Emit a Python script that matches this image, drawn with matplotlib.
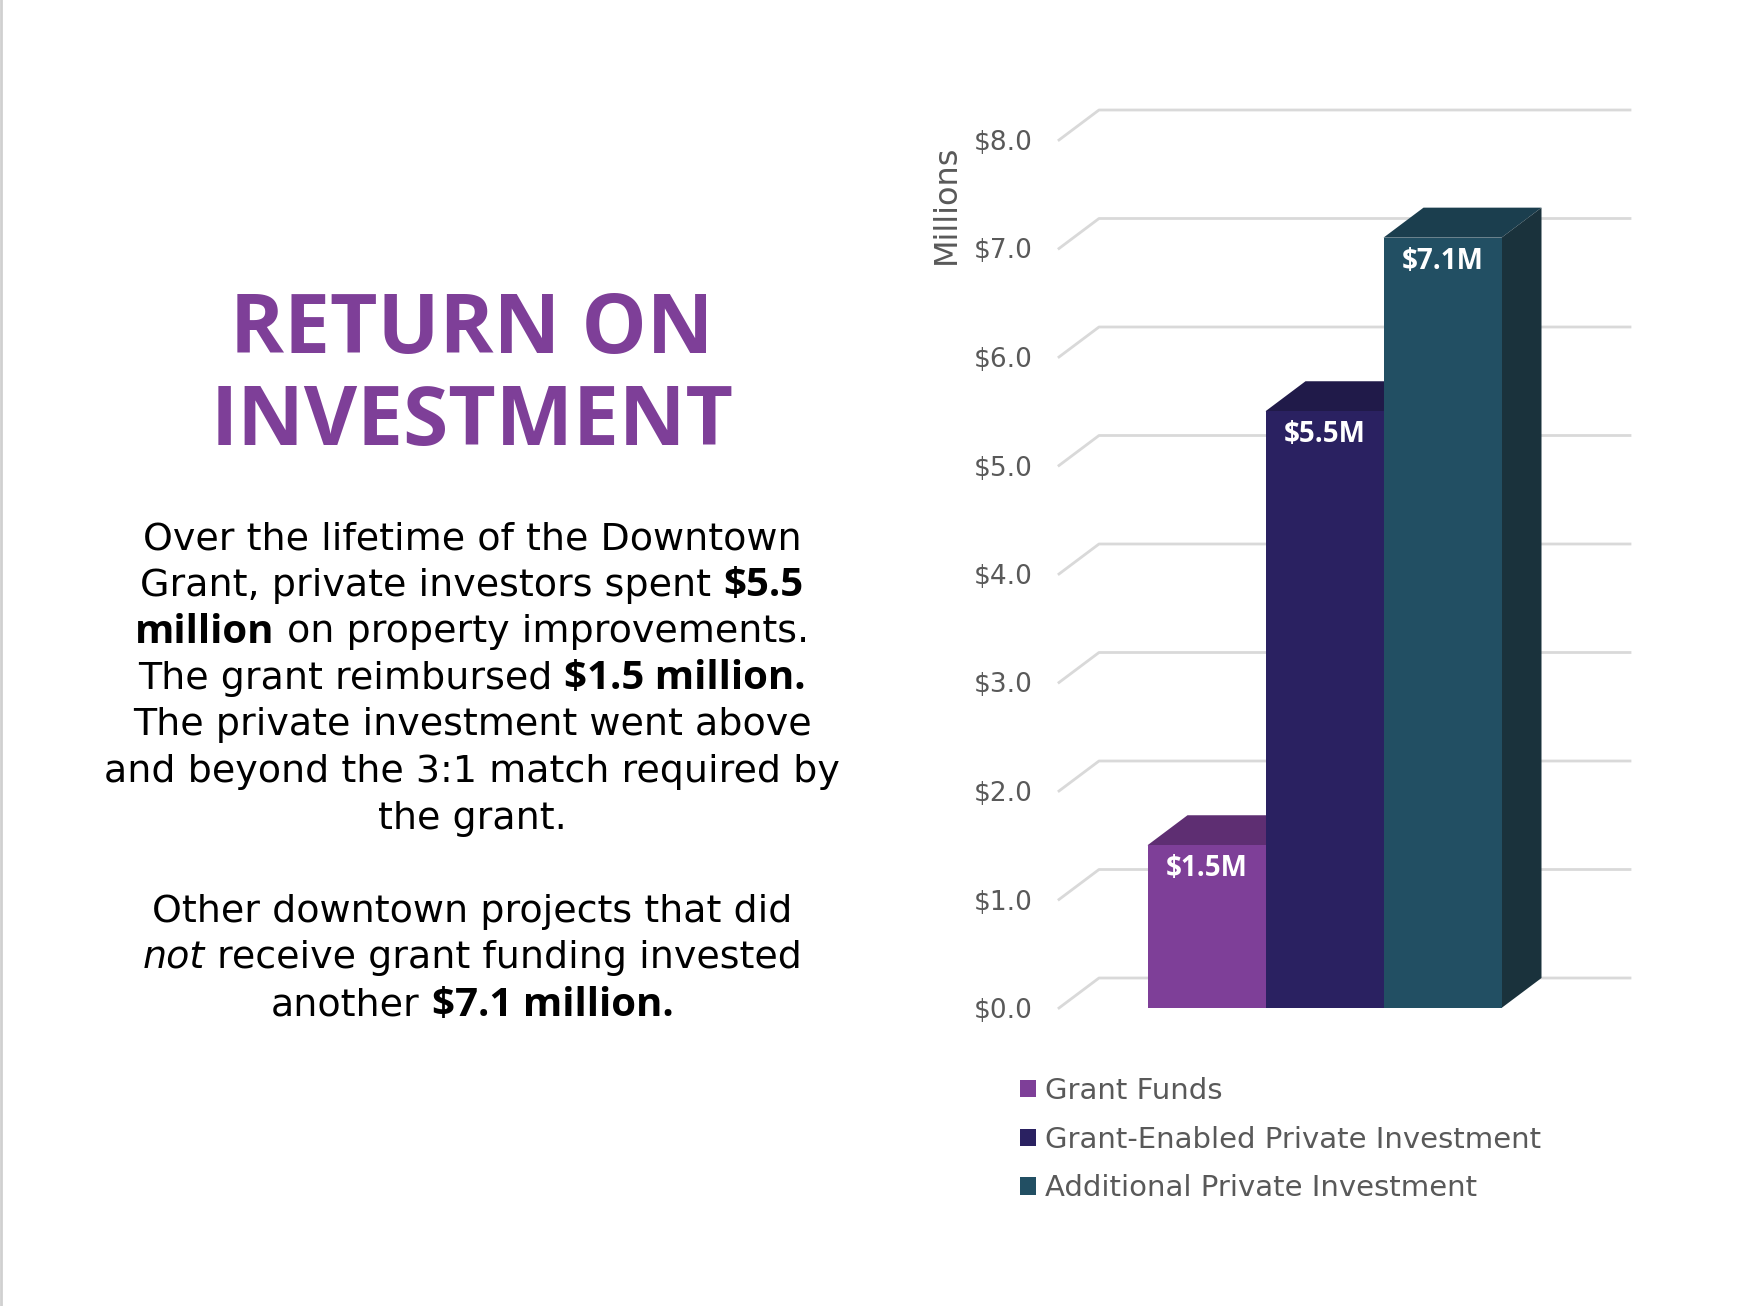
import matplotlib
matplotlib.use("Agg")
import matplotlib.pyplot as plt
from matplotlib.patches import Polygon, Patch
from matplotlib.lines import Line2D
from matplotlib.transforms import IdentityTransform

plt.rcParams['text.parse_math'] = False
plt.rcParams['font.family'] = ['DejaVu Sans']

# ---------------- data ----------------
series = ["Grant Funds", "Grant-Enabled Private Investment", "Additional Private Investment"]
values = [1.5, 5.5, 7.1]
value_labels = ["$1.5M", "$5.5M", "$7.1M"]
y_ticks = [0, 1, 2, 3, 4, 5, 6, 7, 8]
y_tick_labels = ["$0.0", "$1.0", "$2.0", "$3.0", "$4.0", "$5.0", "$6.0", "$7.0", "$8.0"]
axis_title = "Millions"
title_lines = ["RETURN ON", "INVESTMENT"]
body_lines = [
    [("Over the lifetime of the Downtown", "n")],
    [("Grant, private investors spent", "n"), ("$5.5", "b")],
    [("million", "b"), ("on property improvements.", "n")],
    [("The grant reimbursed", "n"), ("$1.5 million.", "b")],
    [("The private investment went above", "n")],
    [("and beyond the 3:1 match required by", "n")],
    [("the grant.", "n")],
    [],
    [("Other downtown projects that did", "n")],
    [("not", "i"), ("receive grant funding invested", "n")],
    [("another", "n"), ("$7.1 million.", "b")],
]

# ---------------- style ----------------
front_colors = ["#7E3F98", "#2A2161", "#224F63"]
top_colors = ["#5E2E72", "#201A49", "#1B3E4E"]
side_colors = ["#4F2761", "#1A153C", "#1A323C"]
grid_color = "#D9D9D9"
tick_color = "#595959"
title_color = "#7E3F98"
accent_font = ["Open Sans", "DejaVu Sans"]

W, H = 1738, 1306
fig = plt.figure(figsize=(W / 100, H / 100), dpi=100)
fig.patch.set_facecolor("white")
px = IdentityTransform()

# front plane of the plot area, in pixels
PL, PR, PB, PT = 1059, 1590, 1008, 140
ax = fig.add_axes([PL / W, 1 - PB / H, (PR - PL) / W, (PB - PT) / H])
ax.set_xlim(0, 1)
ax.set_ylim(0, 8)
for s in ax.spines.values():
    s.set_visible(False)
ax.patch.set_alpha(0)
ax.set_xticks([])
ax.set_yticks(y_ticks)
ax.set_yticklabels(y_tick_labels)
ax.tick_params(axis="y", length=0, pad=19, labelsize=19, labelcolor=tick_color)

DX, DY = 40, 30  # depth offset in pixels
dx = DX / (PR - PL) * 1.0
dy = DY / (PB - PT) * 8.0

for v in y_ticks:
    ax.add_line(Line2D([0, dx, 1 + dx], [v, v + dy, v + dy], color=grid_color,
                       lw=2, clip_on=False, zorder=1))

gap = 1.5
n = len(values)
w = 1 / (n + gap)
x0s = [gap * w / 2 + i * w for i in range(n)]
bars = ax.bar(x0s, values, width=w, align="edge", color=front_colors, linewidth=0)
for i, (rect, x0, h) in enumerate(zip(bars, x0s, values)):
    z = 3 + i
    rect.set_zorder(z + 0.5)
    top = Polygon([(x0, h), (x0 + w, h), (x0 + w + dx, h + dy), (x0 + dx, h + dy)],
                  closed=True, facecolor=top_colors[i], edgecolor="none", zorder=z, clip_on=False)
    side = Polygon([(x0 + w, 0), (x0 + w + dx, dy), (x0 + w + dx, h + dy), (x0 + w, h)],
                   closed=True, facecolor=side_colors[i], edgecolor="none", zorder=z, clip_on=False)
    ax.add_patch(top)
    ax.add_patch(side)
    ax.annotate(value_labels[i], (x0 + w / 2, h), xytext=(0, -17), textcoords="offset points",
                ha="center", va="center", color="white", fontsize=20, fontweight="bold",
                family=accent_font, zorder=z + 1)

fig.text(946, H - 204, axis_title, transform=px, rotation=90, ha="center", va="center",
         fontsize=23, color=tick_color)

handles = [Patch(facecolor=c, edgecolor="none") for c in front_colors]
fig.legend(handles=handles, labels=series, loc="upper left",
           bbox_to_anchor=(1020 / W, 1 - 1077 / H), frameon=False, fontsize=21,
           labelcolor=tick_color, handlelength=0.54, handleheight=0.54,
           handletextpad=0.32, labelspacing=0.71, borderpad=0, borderaxespad=0)

# ---------------- left text panel ----------------
CX = 472
for j, line in enumerate(title_lines):
    fig.text(CX, H - (332 + j * 92), line, transform=px, ha="center", va="center",
             fontsize=59, fontweight="bold", color=title_color, family=accent_font)

renderer = fig.canvas.get_renderer()


def seg_props(style):
    if style == "b":
        return dict(fontweight="bold", family=accent_font)
    if style == "i":
        return dict(fontstyle="italic")
    return dict()


# fit the body font so the widest line spans the same width as in the original layout
target_width = 736
ref_size = 25
probe = fig.text(0, 0, "and beyond the 3:1 match required by", fontsize=ref_size)
body_size = ref_size * target_width / probe.get_window_extent(renderer).width
probe.remove()

probe1 = fig.text(0, 0, "a a", fontsize=body_size)
probe2 = fig.text(0, 0, "aa", fontsize=body_size)
space_w = probe1.get_window_extent(renderer).width - probe2.get_window_extent(renderer).width
probe1.remove()
probe2.remove()

y0, step = 539, 46.6
for k, line in enumerate(body_lines):
    if not line:
        continue
    y = H - (y0 + k * step)
    texts, widths = [], []
    for s, st in line:
        props = seg_props(st)
        size = body_size * (1.06 if st == "b" else 1.0)
        t = fig.text(0, y, s, transform=px, ha="left", va="center", fontsize=size,
                     color="black", **props)
        texts.append(t)
        widths.append(t.get_window_extent(renderer).width)
    total = sum(widths) + space_w * (len(texts) - 1)
    x = CX - total / 2
    for t, wd in zip(texts, widths):
        t.set_x(x)
        x += wd + space_w

fig.add_artist(Line2D([1, 1], [0, H], transform=px, color="#D0D0D0", lw=2))

fig.savefig("out.png", dpi=100, facecolor="white")
